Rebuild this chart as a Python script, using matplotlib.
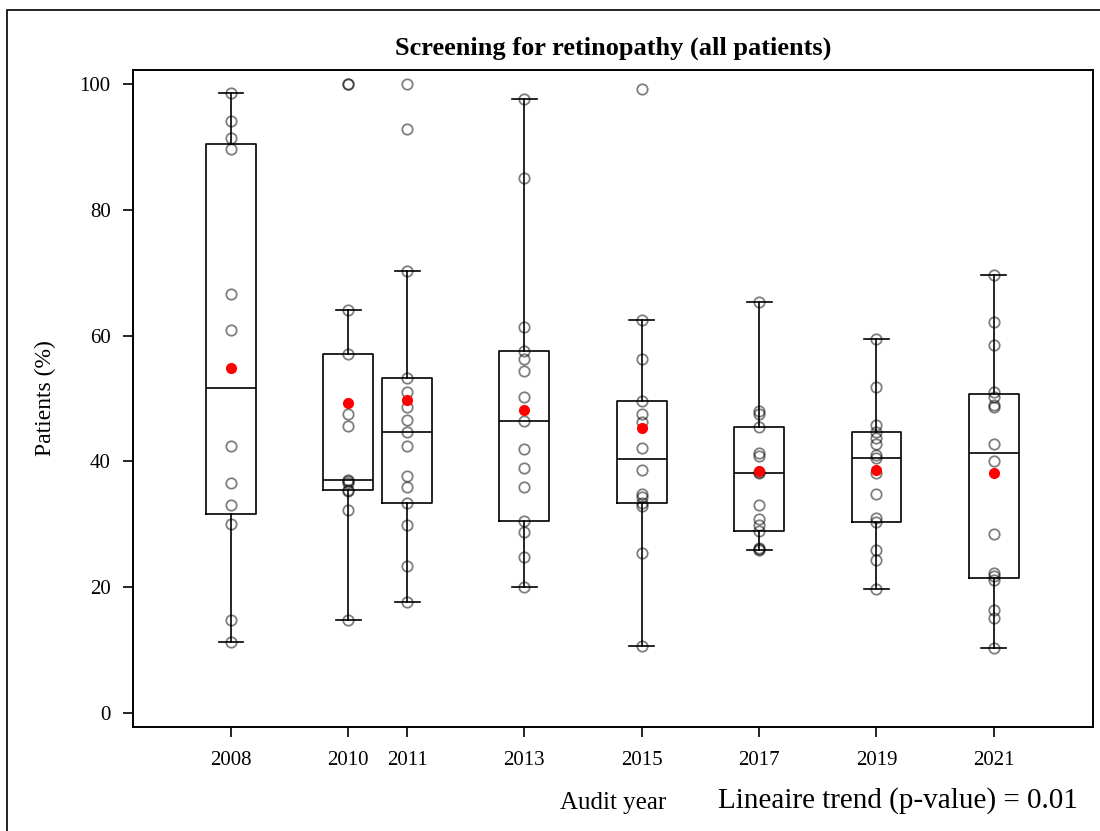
import numpy as np
import matplotlib.pyplot as plt
from matplotlib.patches import Rectangle

plt.rcParams['font.family'] = ['Liberation Serif', 'DejaVu Serif']

# audit years and the per-practice percentages
years = [2008, 2010, 2011, 2013, 2015, 2017, 2019, 2021]
pct_2008 = [98.5, 94.1, 91.4, 89.6, 66.6, 60.9, 42.4, 36.5, 33.1, 30.1, 14.8, 11.3]
pct_2010 = [100.0, 100.0, 64.1, 57.0, 47.6, 45.6, 37.0, 36.9, 36.5, 35.5, 35.3, 32.3, 14.8]
pct_2011 = [100.0, 92.8, 70.2, 53.2, 51.1, 48.6, 46.6, 44.6, 42.4, 37.7, 35.9, 33.4, 29.9, 23.4, 17.6]
pct_2013 = [97.6, 85.1, 61.3, 57.6, 56.3, 54.3, 50.2, 46.5, 41.9, 38.9, 36.0, 30.6, 28.8, 24.8, 20.1]
pct_2015 = [99.2, 62.4, 56.2, 49.6, 47.5, 46.2, 42.2, 38.6, 34.8, 34.4, 33.4, 32.9, 25.4, 10.7]
pct_2017 = [65.3, 48.0, 47.5, 45.4, 41.4, 40.9, 38.3, 38.2, 33.0, 30.8, 29.9, 28.9, 26.3, 26.1, 25.9]
pct_2019 = [59.5, 51.9, 45.8, 44.6, 43.7, 42.8, 41.1, 40.6, 38.1, 34.9, 31.0, 30.4, 25.9, 24.4, 19.8]
pct_2021 = [69.6, 62.2, 58.5, 51.0, 50.3, 49.0, 48.6, 42.7, 40.1, 28.5, 22.3, 21.8, 21.1, 16.4, 15.1, 10.4]
# red dots (means) as drawn
means = [54.8, 49.3, 49.8, 48.1, 45.3, 38.5, 38.6, 38.2]

all_data = [pct_2008, pct_2010, pct_2011, pct_2013, pct_2015, pct_2017, pct_2019, pct_2021]


def pctl(vals, p):
    # SAS default percentile definition (empirical cdf with averaging)
    x = np.sort(vals)
    n = len(x)
    npv = n * p
    j = int(np.floor(npv))
    if abs(npv - j) < 1e-9:
        return (x[j - 1] + x[j]) / 2
    return x[j]


def box_stats(vals):
    x = np.sort(vals)
    q1, med, q3 = pctl(x, 0.25), pctl(x, 0.5), pctl(x, 0.75)
    iqr = q3 - q1
    lo = x[x >= q1 - 1.5 * iqr].min()
    hi = x[x <= q3 + 1.5 * iqr].max()
    return dict(med=med, q1=q1, q3=q3, whislo=lo, whishi=hi, fliers=[])


fig = plt.figure(figsize=(11, 8.31), dpi=100)
ax = fig.add_axes([133 / 1100, 1 - 727 / 831, 960 / 1100, 657 / 831])

stats = [box_stats(d) for d in all_data]
lw = 1.2
ax.bxp(stats, positions=years, widths=0.85, showfliers=False,
       boxprops=dict(color='black', linewidth=lw),
       medianprops=dict(color='black', linewidth=lw),
       whiskerprops=dict(color='black', linewidth=lw),
       capprops=dict(color='black', linewidth=lw))

for yr, d in zip(years, all_data):
    ax.plot([yr] * len(d), d, 'o', mfc='none', mec=(0, 0, 0, 0.5), ms=7.5, mew=1.3, zorder=3)

ax.plot(years, means, 'o', color='red', ms=7, zorder=4)

ax.set_xlim(2006.33, 2022.69)
ax.set_ylim(-2.2, 102.2)
ax.set_xticks(years)
ax.set_xticklabels([str(y) for y in years])
ax.set_yticks([0, 20, 40, 60, 80, 100])
ax.tick_params(axis='both', labelsize=15, length=7, width=1.2, direction='out')
ax.tick_params(axis='x', pad=10)
ax.tick_params(axis='y', pad=9)
for s in ax.spines.values():
    s.set_linewidth(1.4)

ax.set_title('Screening for retinopathy (all patients)', fontsize=19, fontweight='bold', pad=11)
ax.set_ylabel('Patients (%)', fontsize=17, labelpad=17)
fig.text(613 / 1100, 1 - 803 / 831, 'Audit year', fontsize=18, ha='center', va='center')
fig.text(718 / 1100, 1 - 801 / 831, 'Lineaire trend (p-value) = 0.01', fontsize=21, ha='left', va='center')

# outer frame of the picture
fig.patches.append(Rectangle((7 / 1100, -0.2), 1.2, 1.2 - 10 / 831, transform=fig.transFigure,
                             fill=False, edgecolor='black', linewidth=1.2))

fig.savefig('out.png', dpi=100)
